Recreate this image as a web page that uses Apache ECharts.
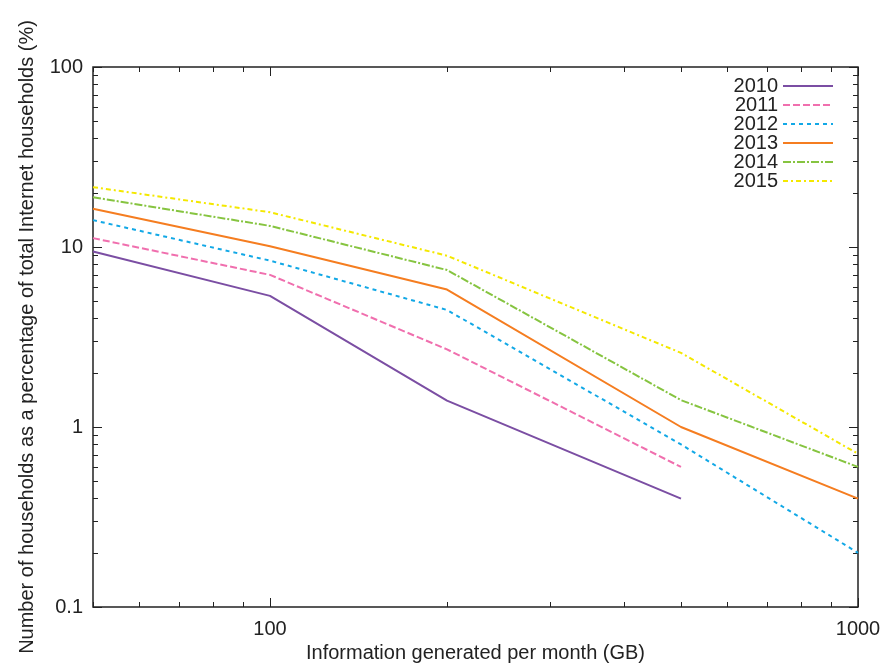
<!DOCTYPE html>
<html>
<head>
<meta charset="utf-8">
<script src="https://cdn.jsdelivr.net/npm/echarts@6/dist/echarts.min.js"></script>
<style>
  html, body { margin: 0; padding: 0; background: #fff; }
  #chart { width: 881px; height: 666px; }
</style>
</head>
<body>
<div id="chart"></div>
<script>
  // information generated per month (GB)
  var gbPerMonth = [50, 100, 200, 500, 1000]
  var years = ['2010', '2011', '2012', '2013', '2014', '2015']
  // % of households, one array per year (2010/2011 stop at 500 GB)
  var y2010 = [9.45, 5.35, 1.4, 0.40]
  var y2011 = [11.2, 7.0, 2.7, 0.6]
  var y2012 = [14.1, 8.4, 4.47, 0.8, 0.2]
  var y2013 = [16.3, 10.1, 5.8, 1.0, 0.4]
  var y2014 = [18.9, 13.1, 7.45, 1.41, 0.6]
  var y2015 = [21.5, 15.6, 8.95, 2.58, 0.71]
  var xMajor = [100, 1000]
  var xMinor = [50, 60, 70, 80, 90, 200, 300, 400, 500, 600, 700, 800, 900]
  var yMajor = [0.1, 1, 10, 100]
  var yMinor = [0.2, 0.3, 0.4, 0.5, 0.6, 0.7, 0.8, 0.9, 2, 3, 4, 5, 6, 7, 8, 9, 20, 30, 40, 50, 60, 70, 80, 90]

  var colors = ['#7b4ea3', '#f06fae', '#12a8e6', '#f57d20', '#86c440', '#f4e800']
  var dashes = ['solid', [7, 3], [4, 4], 'solid', [8, 2, 2, 2], [5, 3, 2, 3]]
  var values = [y2010, y2011, y2012, y2013, y2014, y2015]

  var font = 'Liberation Sans, Arial, sans-serif'
  var plain = function (v) { return String(v) }

  function xAx(pos, ticks, len, labels) {
    return {
      type: 'log', logBase: 10, min: 50, max: 1000, position: pos,
      axisLine: { show: false },
      splitLine: { show: false },
      axisTick: { show: true, inside: true, length: len, customValues: ticks,
        lineStyle: { color: '#222', width: 1 } },
      axisLabel: labels ? { show: true, customValues: xMajor, color: '#222', fontSize: 20,
        fontFamily: font, margin: 12, formatter: plain } : { show: false }
    }
  }
  function yAx(pos, ticks, len, labels) {
    return {
      type: 'log', logBase: 10, min: 0.1, max: 100, position: pos,
      axisLine: { show: false },
      splitLine: { show: false },
      axisTick: { show: true, inside: true, length: len, customValues: ticks,
        lineStyle: { color: '#222', width: 1 } },
      axisLabel: labels ? { show: true, customValues: yMajor, color: '#222', fontSize: 20,
        fontFamily: font, margin: 10, formatter: plain } : { show: false }
    }
  }

  var xAxes = [xAx('bottom', xMajor, 9, true), xAx('bottom', xMinor, 5, false),
    xAx('top', xMajor, 9, false), xAx('top', xMinor, 5, false)]
  xAxes[0].name = 'Information generated per month (GB)'
  xAxes[0].nameLocation = 'middle'
  xAxes[0].nameGap = 34
  xAxes[0].nameTextStyle = { color: '#222', fontSize: 20, fontFamily: font }

  var yAxes = [yAx('left', yMajor, 9, true), yAx('left', yMinor, 5, false),
    yAx('right', yMajor, 9, false), yAx('right', yMinor, 5, false)]
  yAxes[0].name = 'Number of households as a percentage of total Internet households (%)'
  yAxes[0].nameLocation = 'middle'
  yAxes[0].nameGap = 56
  yAxes[0].nameTextStyle = { color: '#222', fontSize: 20, fontFamily: font }

  var chart = echarts.init(document.getElementById('chart'), null, { renderer: 'canvas' })
  chart.setOption({
    animation: false,
    backgroundColor: '#fff',
    grid: {
      left: 93, right: 23, top: 67, bottom: 59,
      containLabel: false,
      outerBoundsMode: 'none',
      show: true, borderColor: '#222', borderWidth: 1.5, backgroundColor: 'transparent'
    },
    legend: {
      orient: 'vertical',
      right: 42,
      top: 71,
      align: 'right',
      itemWidth: 50,
      itemHeight: 12,
      itemGap: -1,
      itemStyle: { opacity: 0 },
      textStyle: { color: '#222', fontSize: 20, lineHeight: 18, fontFamily: font },
      data: years
    },
    xAxis: xAxes,
    yAxis: yAxes,
    series: years.map(function (yr, i) {
      return {
        name: yr,
        type: 'line',
        xAxisIndex: 0,
        yAxisIndex: 0,
        symbol: 'none',
        color: colors[i],
        lineStyle: { color: colors[i], width: 2, type: dashes[i] },
        data: values[i].map(function (v, j) { return [gbPerMonth[j], v] })
      }
    })
  })
</script>
</body>
</html>
